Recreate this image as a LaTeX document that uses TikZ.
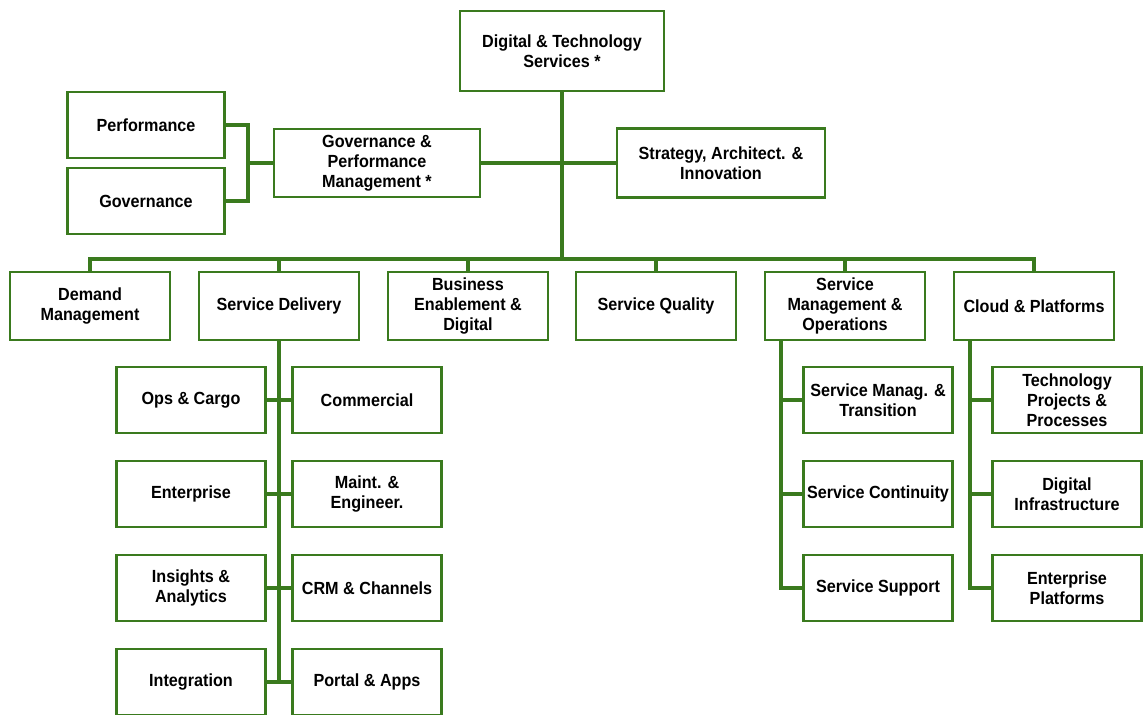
\documentclass[tikz,border=0pt]{standalone}
\usepackage{fontspec}
\setmainfont{Liberation Sans}[FakeStretch=0.92]
\definecolor{orggreen}{RGB}{58,122,30}
\tikzset{
    unit/.style={draw=orggreen, line width=1.5pt, fill=white, align=center,
        inner sep=0pt, font=\bfseries\fontsize{10pt}{11.4pt}\selectfont},
    link/.style={draw=orggreen, line width=1.8pt},
}
\begin{document}
\begin{tikzpicture}[x=0.02cm, y=-0.02cm]
    \useasboundingbox (0,0) rectangle (1143,714);
    \clip (0,0) rectangle (1143,714);
    % Head and staff units
    \node[unit, minimum width=4.08cm, minimum height=1.6cm] (dts) at (562,51) {Digital \& Technology\\Services *};
    \node[unit, minimum width=4.12cm, minimum height=1.36cm] (gpm) at (377,163) {Governance \&\\Performance\\Management *};
    \node[unit, minimum width=4.16cm, minimum height=1.38cm] (sai) at (721,163) {Strategy, Architect. \&\\Innovation};
    \node[unit, minimum width=3.14cm, minimum height=1.32cm] (perf) at (146,125) {Performance};
    \node[unit, minimum width=3.14cm, minimum height=1.32cm] (gov) at (146,201) {Governance};
    % Second level
    \node[unit, minimum width=3.2cm, minimum height=1.36cm] (dem) at (90,306) {Demand\\Management};
    \node[unit, minimum width=3.2cm, minimum height=1.36cm] (sdl) at (279,306) {Service Delivery};
    \node[unit, minimum width=3.2cm, minimum height=1.36cm] (bed) at (468,306) {Business\\Enablement \&\\Digital};
    \node[unit, minimum width=3.2cm, minimum height=1.36cm] (sqa) at (656,306) {Service Quality};
    \node[unit, minimum width=3.2cm, minimum height=1.36cm] (smo) at (845,306) {Service\\Management \&\\Operations};
    \node[unit, minimum width=3.2cm, minimum height=1.36cm] (cap) at (1034,306) {Cloud \& Platforms};
    % Service Delivery teams
    \node[unit, minimum width=2.98cm, minimum height=1.32cm] (ops) at (191,400) {Ops \& Cargo};
    \node[unit, minimum width=2.98cm, minimum height=1.32cm] (com) at (367,400) {Commercial};
    \node[unit, minimum width=2.98cm, minimum height=1.32cm] (ent) at (191,494) {Enterprise};
    \node[unit, minimum width=2.98cm, minimum height=1.32cm] (mae) at (367,494) {Maint. \&\\Engineer.};
    \node[unit, minimum width=2.98cm, minimum height=1.32cm] (ina) at (191,588) {Insights \&\\Analytics};
    \node[unit, minimum width=2.98cm, minimum height=1.32cm] (crm) at (367,588) {CRM \& Channels};
    \node[unit, minimum width=2.98cm, minimum height=1.32cm] (itg) at (191,682) {Integration};
    \node[unit, minimum width=2.98cm, minimum height=1.32cm] (paa) at (367,682) {Portal \& Apps};
    % Service Management teams
    \node[unit, minimum width=2.98cm, minimum height=1.32cm] (smt) at (878,400) {Service Manag. \&\\Transition};
    \node[unit, minimum width=2.98cm, minimum height=1.32cm] (sco) at (878,494) {Service Continuity};
    \node[unit, minimum width=2.98cm, minimum height=1.32cm] (ssu) at (878,588) {Service Support};
    % Cloud teams
    \node[unit, minimum width=2.98cm, minimum height=1.32cm] (tpp) at (1067,400) {Technology\\Projects \&\\Processes};
    \node[unit, minimum width=2.98cm, minimum height=1.32cm] (din) at (1067,494) {Digital\\Infrastructure};
    \node[unit, minimum width=2.98cm, minimum height=1.32cm] (epl) at (1067,588) {Enterprise\\Platforms};
    % Junctions
    \coordinate (bus) at (562,259);
    \coordinate (pgj) at (248,163);
    \coordinate (smoj) at (781,340);
    \coordinate (capj) at (970,340);
    % Connectors
    \draw[link] (dts.south) -- (bus);
    \draw[link] (gpm.east) -- (gpm.east -| bus);
    \draw[link] (sai.west) -- (sai.west -| bus);
    \foreach \n in {dem,sdl,bed,sqa,smo,cap}
        \draw[link] (\n.north) |- (bus);
    \draw[link] (perf.east) -| (pgj);
    \draw[link] (gov.east) -| (pgj);
    \draw[link] (pgj) -- (gpm.west);
    \draw[link] (sdl.south) -- (sdl.south |- itg.east);
    \foreach \a/\b in {ops/com,ent/mae,ina/crm,itg/paa}
        \draw[link] (\a.east) -- (\b.west);
    \draw[link] (smoj) |- (ssu.west);
    \foreach \n in {smt,sco}
        \draw[link] (smoj |- \n.west) -- (\n.west);
    \draw[link] (capj) |- (epl.west);
    \foreach \n in {tpp,din}
        \draw[link] (capj |- \n.west) -- (\n.west);
\end{tikzpicture}
\end{document}
